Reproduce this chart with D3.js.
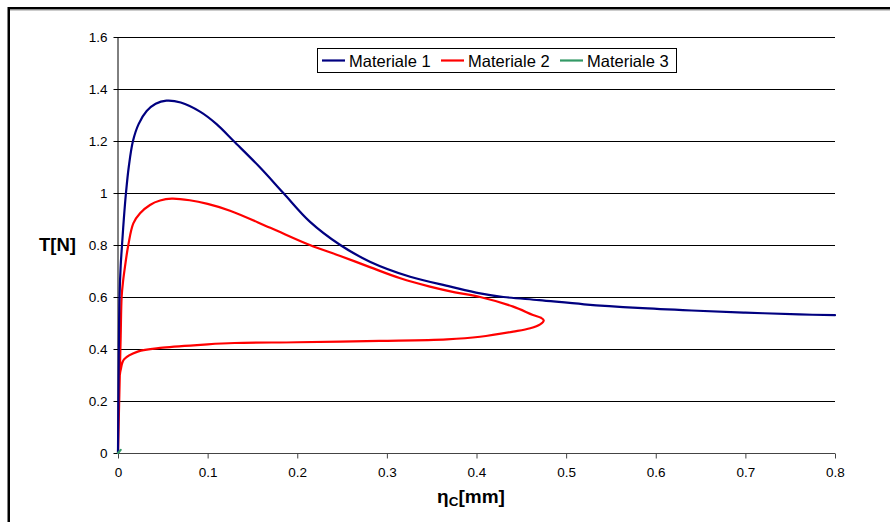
<!DOCTYPE html>
<html>
<head>
<meta charset="utf-8">
<script src="https://cdn.jsdelivr.net/npm/d3@7"></script>
<style>
  html, body { margin: 0; padding: 0; background: #fff; }
  svg { display: block; font-family: Arial, "Liberation Sans", sans-serif; }
</style>
</head>
<body>
<svg id="chart" width="890" height="522"></svg>
<script>
// ---- data ----
const seriesNames = ["Materiale 1", "Materiale 2", "Materiale 3"];
const seriesColors = ["#000080", "#FF0000", "#339966"];

const m1X = [0, 0.0008, 0.0017, 0.003, 0.0045, 0.0065, 0.0089, 0.012, 0.0167, 0.023, 0.032, 0.042, 0.054, 0.07, 0.0915, 0.11, 0.129, 0.158, 0.1845, 0.214, 0.248, 0.281, 0.326, 0.371, 0.404, 0.43, 0.47, 0.52, 0.58, 0.64, 0.7, 0.76, 0.8];
const m1Y = [0, 0.35, 0.6, 0.72, 0.8, 0.9, 1.0, 1.1, 1.2, 1.265, 1.315, 1.343, 1.355, 1.348, 1.313, 1.265, 1.2, 1.10, 1.0, 0.89, 0.80, 0.736, 0.678, 0.64, 0.614, 0.6, 0.588, 0.572, 0.558, 0.548, 0.54, 0.533, 0.53];

const m2X = [0, 0.001, 0.002, 0.003, 0.0041, 0.0058, 0.0078, 0.0115, 0.0171, 0.0246, 0.0357, 0.047, 0.06, 0.08, 0.1, 0.125, 0.17, 0.214, 0.248, 0.281, 0.315, 0.348, 0.376, 0.404, 0.441, 0.463, 0.472, 0.475, 0.471, 0.46, 0.441, 0.404, 0.367, 0.292, 0.2, 0.13, 0.1, 0.05, 0.022, 0.0067, 0.003, 0.002];
const m2Y = [0, 0.15, 0.3, 0.45, 0.603, 0.665, 0.717, 0.8, 0.883, 0.922, 0.954, 0.971, 0.978, 0.972, 0.958, 0.932, 0.866, 0.80, 0.758, 0.715, 0.672, 0.64, 0.618, 0.60, 0.563, 0.531, 0.52, 0.51, 0.495, 0.48, 0.467, 0.447, 0.437, 0.431, 0.426, 0.423, 0.418, 0.405, 0.39, 0.36, 0.32, 0.30];

const m3X = [0, 0.003];
const m3Y = [0, 0.012];

const xTicks = [0, 0.1, 0.2, 0.3, 0.4, 0.5, 0.6, 0.7, 0.8];
const xTickLabels = ["0", "0.1", "0.2", "0.3", "0.4", "0.5", "0.6", "0.7", "0.8"];
const yTicks = [0, 0.2, 0.4, 0.6, 0.8, 1.0, 1.2, 1.4, 1.6];
const yTickLabels = ["0", "0.2", "0.4", "0.6", "0.8", "1", "1.2", "1.4", "1.6"];

// ---- chart ----
const svg = d3.select("#chart");
const plot = { left: 118, right: 835, top: 37, bottom: 453 };

const x = d3.scaleLinear().domain([0, 0.8]).range([plot.left, plot.right]);
const y = d3.scaleLinear().domain([0, 1.6]).range([plot.bottom, plot.top]);

// outer frame (only top/left edges visible)
svg.append("rect")
  .attr("x", 8.75).attr("y", 8.25)
  .attr("width", 900).attr("height", 600)
  .attr("fill", "none").attr("stroke", "#000").attr("stroke-width", 2.5);
svg.append("line")
  .attr("x1", 10).attr("x2", 890).attr("y1", 10).attr("y2", 10)
  .attr("stroke", "#999").attr("stroke-width", 1);

// gridlines
svg.append("g").selectAll("line")
  .data(yTicks.filter(d => d > 0))
  .join("line")
  .attr("x1", plot.left).attr("x2", plot.right)
  .attr("y1", d => Math.round(y(d)) + 0.5).attr("y2", d => Math.round(y(d)) + 0.5)
  .attr("stroke", "#000").attr("stroke-width", 1);

// y axis
const yAxis = svg.append("g")
  .attr("transform", `translate(${plot.left + 0.5},0)`)
  .call(d3.axisLeft(y).tickValues(yTicks).tickSize(5).tickPadding(6)
    .tickFormat((d, i) => yTickLabels[i]));
yAxis.select(".domain").attr("stroke", "#000").attr("d", `M-0.5,${plot.top}V${plot.bottom}`);
yAxis.selectAll(".tick line").attr("stroke", "#000");
yAxis.selectAll(".tick text").attr("font-size", 13.5).attr("fill", "#000")
  .attr("font-family", "Arial, 'Liberation Sans', sans-serif");

// x axis
const xAxis = svg.append("g")
  .attr("transform", `translate(0,${Math.round(plot.bottom) + 0.5})`)
  .call(d3.axisBottom(x).tickValues(xTicks).tickSize(5).tickPadding(9)
    .tickFormat((d, i) => xTickLabels[i]));
xAxis.select(".domain").attr("stroke", "#444").attr("d", `M${plot.left},0H${plot.right}`);
xAxis.selectAll(".tick line").attr("stroke", "#444");
xAxis.selectAll(".tick text").attr("font-size", 13.5).attr("fill", "#000")
  .attr("font-family", "Arial, 'Liberation Sans', sans-serif");

// series
const series = [
  { xs: m1X, ys: m1Y },
  { xs: m2X, ys: m2Y },
  { xs: m3X, ys: m3Y }
];
const line = d3.line()
  .x(d => x(d[0])).y(d => y(d[1]))
  .curve(d3.curveCatmullRom.alpha(0.5));

[1, 0, 2].forEach(i => {
  const s = series[i];
  const pts = s.xs.map((v, j) => [v, s.ys[j]]);
  svg.append("path")
    .datum(pts)
    .attr("d", line)
    .attr("fill", "none")
    .attr("stroke", seriesColors[i])
    .attr("stroke-width", 2.2)
    .attr("stroke-linejoin", "round")
    .attr("stroke-linecap", "round");
});

// axis titles
svg.append("text")
  .attr("x", 76).attr("y", 251)
  .attr("text-anchor", "end")
  .attr("font-weight", "bold").attr("font-size", 18.5)
  .text("T[N]");

const xt = svg.append("text")
  .attr("x", 471).attr("y", 503)
  .attr("text-anchor", "middle")
  .attr("font-weight", "bold").attr("font-size", 19);
xt.append("tspan").text("η");
xt.append("tspan").attr("font-size", 13.5).attr("dy", 3).text("C");
xt.append("tspan").attr("dy", -3).text("[mm]");

// legend
const lg = svg.append("g");
lg.append("rect")
  .attr("x", 317.5).attr("y", 48.5).attr("width", 359).attr("height", 24)
  .attr("fill", "#fff").attr("stroke", "#000").attr("stroke-width", 1);
const legendPos = [{ lx: 322, tx: 349 }, { lx: 441, tx: 468 }, { lx: 560, tx: 587 }];
seriesNames.forEach((name, i) => {
  lg.append("line")
    .attr("x1", legendPos[i].lx).attr("x2", legendPos[i].lx + 23)
    .attr("y1", 60.5).attr("y2", 60.5)
    .attr("stroke", seriesColors[i]).attr("stroke-width", 2.2);
  lg.append("text")
    .attr("x", legendPos[i].tx).attr("y", 66.5)
    .attr("font-size", 16.5).attr("fill", "#000")
    .text(name);
});
</script>
</body>
</html>
